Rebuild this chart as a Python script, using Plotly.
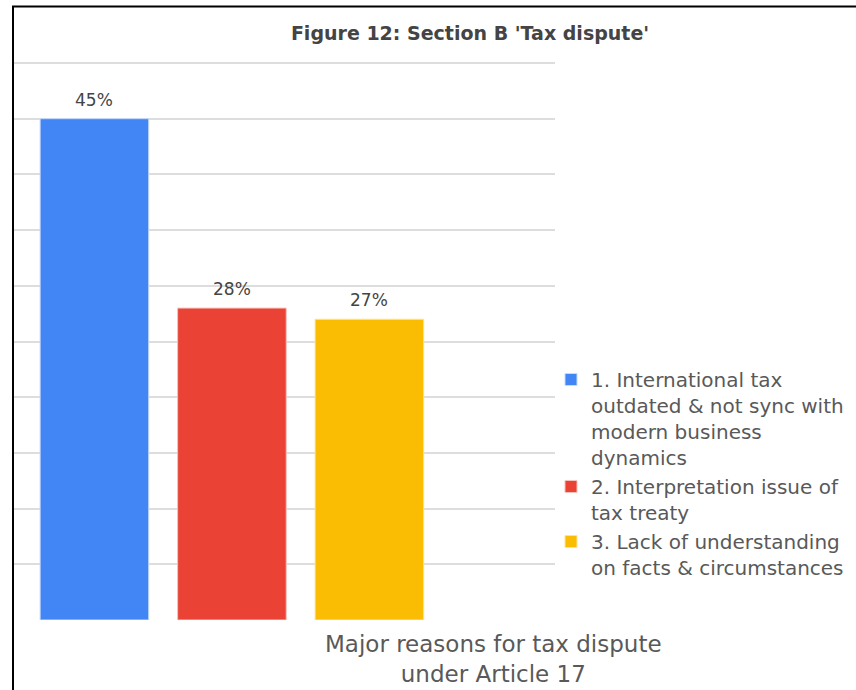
import plotly.graph_objects as go

# Survey results: major reasons for tax dispute under Article 17
reasons = [
    "1. International tax<br>outdated & not sync with<br>modern business<br>dynamics",
    "2. Interpretation issue of<br>tax treaty",
    "3. Lack of understanding<br>on facts & circumstances",
]
shares = [45, 28, 27]
colors = ["#4285F4", "#EA4335", "#FBBC04"]
edge_colors = ["#C6DAFC", "#F7C1BC", "#FEE49B"]
positions = [0, 1, 2]

W, H = 856, 690
L, R, T, B = 14, 301, 61, 70
plot_w = W - L - R
plot_h = H - T - B
Y_MAX = 50 * plot_h / 557  # keeps 0..50 on 557 px, a little headroom for the top gridline

FONT = "DejaVu Sans, Verdana, sans-serif"

fig = go.Figure()
for name, val, col, edge, pos in zip(reasons, shares, colors, edge_colors, positions):
    fig.add_trace(go.Bar(
        x=[pos], y=[val], name=name, width=0.79,
        marker=dict(color=col, line=dict(color=edge, width=1)),
    ))

# value labels above each bar
labels = [
    dict(x=pos, y=val, xref="x", yref="y", text=f"{val}%", showarrow=False,
         yanchor="middle", yshift=19,
         font=dict(family=FONT, size=17, color="#444444"))
    for val, pos in zip(shares, positions)
]

def px_x(x):
    return (x - L) / plot_w

def px_y(y):
    return (H - B - y) / plot_h

fig.update_layout(
    width=W, height=H,
    margin=dict(l=L, r=R, t=T, b=B, autoexpand=False),
    paper_bgcolor="white", plot_bgcolor="white",
    barmode="overlay",
    showlegend=True,
    title=dict(
        text="<b>Figure 12: Section B 'Tax dispute'</b>",
        x=470 / W, xanchor="center", y=1 - 33 / H, yanchor="middle",
        font=dict(family=FONT, size=19, color="#444444"),
    ),
    xaxis=dict(range=[-0.585, 3.35], showticklabels=False, showgrid=False,
               zeroline=False, showline=False, ticks=""),
    yaxis=dict(range=[0, Y_MAX], tickmode="linear", tick0=0, dtick=5,
               showticklabels=False, showgrid=True,
               gridcolor="#DDDDDD", gridwidth=1.5, zeroline=False, showline=False, ticks=""),
    legend=dict(
        x=px_x(551), xanchor="left", y=px_y(360), yanchor="top",
        font=dict(family=FONT, size=20, color="#595959"),
        valign="top", itemwidth=30,
        bgcolor="rgba(0,0,0,0)",
    ),
    annotations=labels + [dict(
        text="Major reasons for tax dispute<br>under Article 17",
        xref="paper", yref="paper", x=px_x(493), y=px_y(629),
        xanchor="center", yanchor="top", showarrow=False,
        font=dict(family=FONT, size=23, color="#595959"),
    )],
    shapes=[
        dict(type="line", xref="paper", yref="paper",
             x0=px_x(13), x1=px_x(13), y0=px_y(6), y1=px_y(H + 2),
             line=dict(color="black", width=2)),
        dict(type="line", xref="paper", yref="paper",
             x0=px_x(12), x1=px_x(W + 2), y0=px_y(6.5), y1=px_y(6.5),
             line=dict(color="black", width=2)),
    ],
)

fig.write_html("out.html")
